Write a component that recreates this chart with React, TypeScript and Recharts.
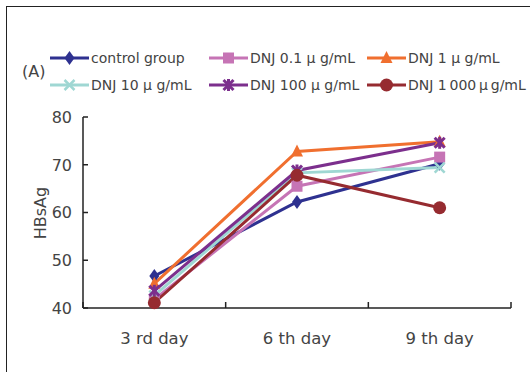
import { Line, LineChart, XAxis, YAxis } from 'recharts';

const days = ['3 rd day', '6 th day', '9 th day'];
const control = [46.7, 62.2, 70.2];
const dnj01 = [41.8, 65.5, 71.6];
const dnj1 = [45.1, 72.8, 74.8];
const dnj10 = [42.6, 68.3, 69.4];
const dnj100 = [43.6, 68.8, 74.6];
const dnj1000 = [41.1, 67.8, 61.0];
const yTicks = [40, 50, 60, 70, 80];
const xTicks = [0, 0.5, 1, 1.5, 2, 2.5, 3];

type Shape = 'diamond' | 'square' | 'triangle' | 'cross' | 'star' | 'circle';

const series: { key: string; name: string; values: number[]; color: string; shape: Shape }[] = [
  { key: 'control', name: 'control group', values: control, color: '#2e3190', shape: 'diamond' },
  { key: 'dnj01', name: 'DNJ 0.1 μ g/mL', values: dnj01, color: '#c674b5', shape: 'square' },
  { key: 'dnj1', name: 'DNJ 1 μ g/mL', values: dnj1, color: '#f06f2f', shape: 'triangle' },
  { key: 'dnj10', name: 'DNJ 10 μ g/mL', values: dnj10, color: '#9fd7d3', shape: 'cross' },
  { key: 'dnj100', name: 'DNJ 100 μ g/mL', values: dnj100, color: '#7c2f8d', shape: 'star' },
  { key: 'dnj1000', name: 'DNJ 1\u2009000\u2009μ\u2009g/mL', values: dnj1000, color: '#962b30', shape: 'circle' },
];

// x sits in the middle of each day's band; band edges carry the tick marks
const rows = days.map((day, i) => {
  const row: Record<string, number | string> = { day, x: i + 0.5 };
  series.forEach((s) => (row[s.key] = s.values[i]));
  return row;
});

const FONT = '"DejaVu Sans", Verdana, sans-serif';
const TEXT = '#444';
const AXIS = '#222';

function Marker({ shape, cx, cy, color }: { shape: Shape; cx: number; cy: number; color: string }) {
  switch (shape) {
    case 'diamond':
      return <polygon points={`${cx},${cy - 7} ${cx + 5},${cy} ${cx},${cy + 7} ${cx - 5},${cy}`} fill={color} />;
    case 'square':
      return <rect x={cx - 5.5} y={cy - 5.5} width={11} height={11} fill={color} />;
    case 'triangle':
      return <polygon points={`${cx},${cy - 7} ${cx + 6},${cy + 5} ${cx - 6},${cy + 5}`} fill={color} />;
    case 'cross':
      return (
        <g stroke={color} strokeWidth={2.5}>
          <line x1={cx - 5} y1={cy - 5} x2={cx + 5} y2={cy + 5} />
          <line x1={cx - 5} y1={cy + 5} x2={cx + 5} y2={cy - 5} />
        </g>
      );
    case 'star':
      return (
        <g stroke={color} strokeWidth={3}>
          <line x1={cx - 5} y1={cy - 5} x2={cx + 5} y2={cy + 5} />
          <line x1={cx - 5} y1={cy + 5} x2={cx + 5} y2={cy - 5} />
          <line x1={cx} y1={cy - 6} x2={cx} y2={cy + 6} />
        </g>
      );
    default:
      return <circle cx={cx} cy={cy} r={6.5} fill={color} />;
  }
}

function DayTick({ x, y, payload }: any) {
  const v = payload.value as number;
  if (Number.isInteger(v)) {
    return <line x1={x} y1={y} x2={x} y2={y - 6} stroke={AXIS} strokeWidth={1.5} />;
  }
  return (
    <text x={x} y={y + 36} textAnchor="middle" fill={TEXT} fontSize={16.5} fontFamily={FONT}>
      {days[Math.floor(v)]}
    </text>
  );
}

function ValueTick({ x, y, payload }: any) {
  return (
    <g>
      <line x1={x} y1={y} x2={x + 5} y2={y} stroke={AXIS} strokeWidth={1.5} />
      <text x={x - 11} y={y} dy="0.36em" textAnchor="end" fill={TEXT} fontSize={16} fontFamily={FONT}>
        {payload.value}
      </text>
    </g>
  );
}

const legendCols = [50, 209, 367];
const legendRows = [58, 85];

function ChartLegend() {
  return (
    <>
      <div style={{ position: 'absolute', left: 22, top: 62, fontSize: 16, color: TEXT, fontFamily: FONT, lineHeight: '20px' }}>
        (A)
      </div>
      {series.map((s, i) => (
        <div
          key={s.key}
          style={{
            position: 'absolute',
            left: legendCols[i % 3],
            top: legendRows[Math.floor(i / 3)] - 10,
            height: 20,
            display: 'flex',
            alignItems: 'center',
            whiteSpace: 'nowrap',
          }}
        >
          <svg width={39} height={20} style={{ display: 'block' }}>
            <line x1={0} y1={10} x2={39} y2={10} stroke={s.color} strokeWidth={3} />
            <Marker shape={s.shape} cx={19.5} cy={10} color={s.color} />
          </svg>
          <span style={{ fontSize: 14, color: TEXT, fontFamily: FONT, marginLeft: 2 }}>{s.name}</span>
        </div>
      ))}
    </>
  );
}

export default function App() {
  return (
    <div
      style={{
        position: 'absolute',
        left: 0,
        top: 0,
        width: 530,
        height: 372,
        overflow: 'hidden',
        background: '#fff',
      }}
    >
      <div
        style={{
          position: 'absolute',
          left: 6,
          top: 6,
          width: 700,
          height: 700,
          borderLeft: '1.5px solid #222',
          borderTop: '1.5px solid #222',
        }}
      />
      <ChartLegend />
      <div style={{ position: 'absolute', left: 0, top: 0 }}>
        <LineChart width={530} height={372} data={rows} margin={{ top: 117, right: 19, bottom: 34, left: 38 }}>
          <XAxis
            type="number"
            dataKey="x"
            domain={[0, 3]}
            ticks={xTicks}
            interval={0}
            height={30}
            tickSize={0}
            tickMargin={0}
            tickLine={false}
            tick={<DayTick />}
            axisLine={{ stroke: AXIS, strokeWidth: 1.5 }}
          />
          <YAxis
            type="number"
            domain={[40, 80]}
            ticks={yTicks}
            interval={0}
            width={45}
            tickSize={0}
            tickMargin={0}
            tickLine={false}
            tick={<ValueTick />}
            axisLine={{ stroke: AXIS, strokeWidth: 1.5 }}
            label={{
              content: () => (
                <text
                  x={40}
                  y={213}
                  transform="rotate(-90, 40, 213)"
                  textAnchor="middle"
                  dy="0.36em"
                  fill={TEXT}
                  fontSize={16}
                  fontFamily={FONT}
                >
                  HBsAg
                </text>
              ),
            }}
          />
          {series.map((s) => (
            <Line
              key={s.key}
              dataKey={s.key}
              name={s.name}
              stroke={s.color}
              strokeWidth={3}
              isAnimationActive={false}
              activeDot={false}
              dot={(p: any) => <Marker key={`${s.key}-${p.index}`} shape={s.shape} cx={p.cx} cy={p.cy} color={s.color} />}
            />
          ))}
        </LineChart>
      </div>
    </div>
  );
}
